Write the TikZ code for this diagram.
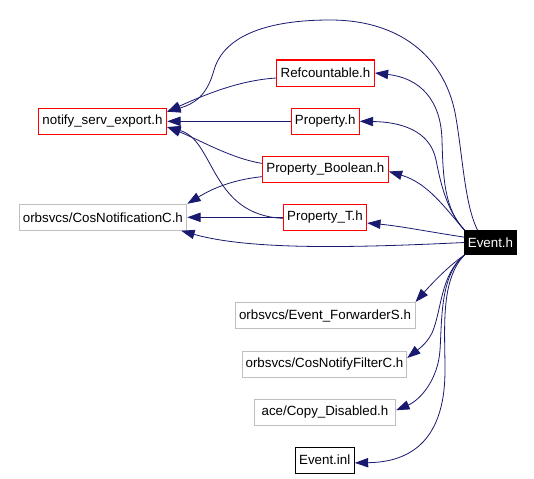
\documentclass[tikz,border=0pt]{standalone}
\usepackage{fontspec}
\setmainfont{Liberation Sans}
\usetikzlibrary{arrows.meta}
\definecolor{edgec}{HTML}{191970}
\definecolor{grayb}{HTML}{BFBFBF}
\tikzset{
  box/.style={draw, line width=0.75pt, inner sep=0pt, minimum height=19.5pt, font=\fontsize{10pt}{12pt}\selectfont, text=black},
  redbox/.style={box, draw=red},
  graybox/.style={box, draw=grayb},
  blackbox/.style={box, draw=black},
  mainbox/.style={box, draw=black, fill=black, text=white, minimum height=18pt},
  edge/.style={draw=edgec, line width=0.6pt, -{Triangle[length=10pt,width=7pt]}, fill=none},
}
\begin{document}
\begin{tikzpicture}[x=0.75pt,y=-0.75pt]
\useasboundingbox (0,0) rectangle (534,478);
\fill[white] (0,0) rectangle (534,478);
% nodes
\node[redbox, minimum width=73.2pt] (refc) at (325.5,73) {Refcountable.h};
\node[redbox, minimum width=96.3pt] (notify) at (102.5,121.3) {notify\_serv\_export.h};
\node[redbox, minimum width=51.2pt] (prop) at (325.2,121.3) {Property.h};
\node[redbox, minimum width=94.5pt] (propb) at (325.3,169.5) {Property\_Boolean.h};
\node[graybox, minimum width=125.8pt] (cosn) at (102.9,217.3) {orbsvcs/CosNotificationC.h};
\node[redbox, minimum width=62.5pt] (propt) at (325,217.3) {Property\_T.h};
\node[mainbox, minimum width=38.3pt] (event) at (490.5,242.5) {Event.h};
\node[graybox, minimum width=135pt] (evfw) at (325,315.5) {orbsvcs/Event\_ForwarderS.h};
\node[graybox, minimum width=123.3pt] (cnf) at (324.5,364) {orbsvcs/CosNotifyFilterC.h};
\node[graybox, minimum width=106pt] (copy) at (325,412.2) {ace/Copy\_Disabled.h};
\node[blackbox, minimum width=44.5pt] (inl) at (324.7,460.2) {Event.inl};
% edges from Event.h
\draw[edge] ([xshift=9.75pt]event.north west) .. controls (465,205) and (463,160) .. (456,118)
  .. controls (447,62) and (405,20) .. (330,20)
  .. controls (255,20) and (222,42) .. (214,70)
  .. controls (207,96) and (194,104) .. ([yshift=7.2pt]notify.east);
\draw[edge] (event.north west) .. controls (445,210) and (443,180) .. (442,140)
  .. controls (441,100) and (420,78) .. (refc.east);
\draw[edge] (event.north west) .. controls (446,210) and (440,180) .. (436,160)
  .. controls (430,130) and (400,122) .. (prop.east);
\draw[edge] (event.north west) .. controls (445,208) and (428,183) .. ([yshift=-1.5pt]propb.east);
\draw[edge] ([yshift=4pt]event.west) .. controls (430,232) and (400,226) .. ([yshift=-4.3pt]propt.east);
\draw[edge] (event.west) .. controls (350,248) and (250,250) .. ([xshift=-4.5pt]cosn.south east);
\draw[edge] (event.south west) .. controls (450,265) and (435,280) .. (evfw.north east);
\draw[edge] (event.south west) .. controls (440,275) and (442,310) .. (432,333)
  .. controls (426,345) and (416,351) .. ([yshift=4.5pt]cnf.east);
\draw[edge] (event.south west) .. controls (440,275) and (442,320) .. (440,350)
  .. controls (438,380) and (420,400) .. ([yshift=1.5pt]copy.east);
\draw[edge] (event.south west) .. controls (440,280) and (445,330) .. (445,370)
  .. controls (445,430) and (420,462) .. ([yshift=-2pt]inl.east);
% edges into notify_serv_export.h
\draw[edge] ([yshift=-3.75pt]refc.west) .. controls (245,80) and (215,90) .. ([yshift=7.2pt]notify.east);
\draw[edge] (prop.west) -- (notify.east);
\draw[edge] ([yshift=4.6pt]propb.west) .. controls (230,158) and (200,140) .. ([yshift=-4.3pt]notify.east);
\draw[edge] ([yshift=-0.75pt]propt.west) .. controls (210,215) and (215,140) .. ([yshift=-4.3pt]notify.east);
% edges into CosNotificationC.h
\draw[edge] ([yshift=-5.4pt]propb.west) .. controls (230,180) and (210,190) .. (cosn.north east);
\draw[edge] (propt.west) -- (cosn.east);
\end{tikzpicture}
\end{document}
